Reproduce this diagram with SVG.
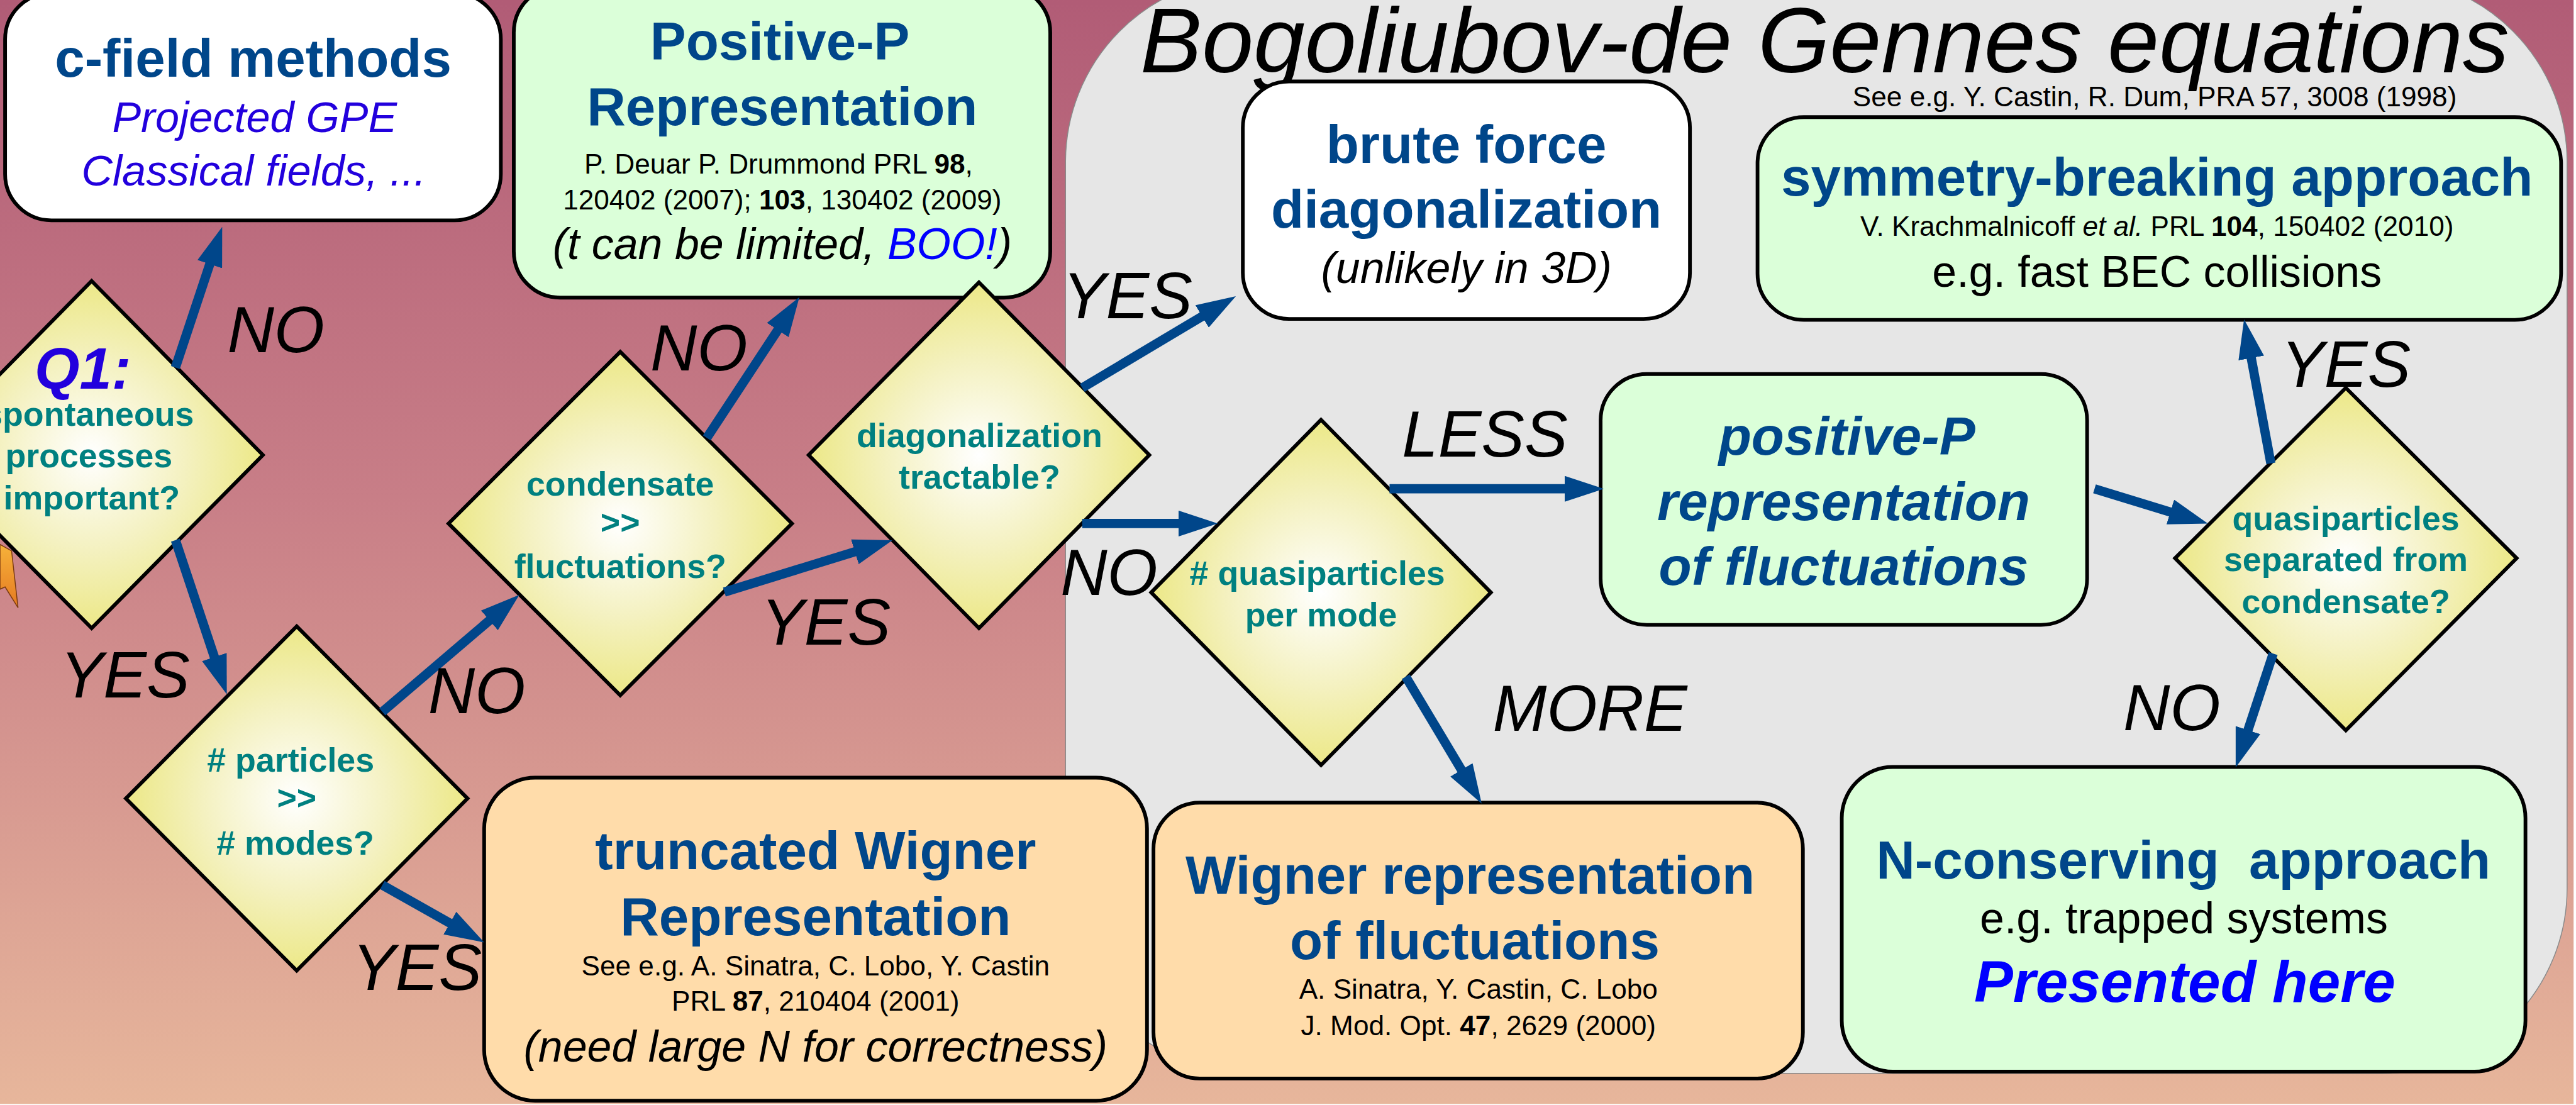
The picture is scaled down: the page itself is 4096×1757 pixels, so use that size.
<svg xmlns="http://www.w3.org/2000/svg" width="4096" height="1757" viewBox="0 0 4096 1757">
<defs>
<linearGradient id="bg" x1="0" y1="0" x2="0" y2="1">
<stop offset="0" stop-color="#b15c76"/>
<stop offset="0.45" stop-color="#c87e87"/>
<stop offset="1" stop-color="#e7b69b"/>
</linearGradient>
<radialGradient id="dg" cx="0.5" cy="0.5" r="0.5">
<stop offset="0" stop-color="#ffffff"/>
<stop offset="0.55" stop-color="#f4f1c0"/>
<stop offset="1" stop-color="#ece887"/>
</radialGradient>
<linearGradient id="og" x1="0" y1="0" x2="0" y2="1">
<stop offset="0" stop-color="#f6b23a"/>
<stop offset="1" stop-color="#e57a22"/>
</linearGradient>
<marker id="ah" markerUnits="userSpaceOnUse" viewBox="0 0 85 56" markerWidth="85" markerHeight="56" refX="5" refY="28" orient="auto">
<path d="M0,0 L85,28 L0,56 Z" fill="#00468a"/>
</marker>
<style>
text{font-family:"Liberation Sans",Arial,sans-serif}
.box{stroke:#000;stroke-width:8}
.g{fill:#dbffd9}
.w{fill:#ffffff}
.o{fill:#ffdcaa}
.dia{fill:url(#dg);stroke:#000;stroke-width:8;stroke-linejoin:miter}
.h{font-weight:bold;fill:#00468a;font-size:116px;text-anchor:middle}
.hi{font-weight:bold;font-style:italic;fill:#00468a;font-size:116px;text-anchor:middle}
.d{font-weight:bold;fill:#008080;font-size:73px;text-anchor:middle}
.r{font-size:60px;fill:#000;text-anchor:middle}
.n{font-size:95px;fill:#000;text-anchor:middle}
.ni{font-size:95px;font-style:italic;fill:#000;text-anchor:middle}
.lab{font-size:140px;font-style:italic;fill:#000;text-anchor:middle}
.c{stroke:#00468a;stroke-width:20;fill:none;marker-end:url(#ah)}
.v{fill:#2200dd}
</style>
</defs>
<g transform="scale(0.736)">
<rect x="0" y="0" width="5560" height="2385" fill="url(#bg)"/>
<g id="bdg-region">
<rect x="2302" y="-50" width="3244" height="2369" rx="400" ry="400" fill="#e6e6e6" stroke="#8a8a8a" stroke-width="2"/>
<text x="3942" y="156" font-size="200" font-style="italic" text-anchor="middle" fill="#000">Bogoliubov-de Gennes equations</text>
<text class="r" x="4655" y="230">See e.g. Y. Castin, R. Dum, PRA 57, 3008 (1998)</text>
</g>
<path d="M0,1176 L25,1190 L39,1313 L11,1268 L0,1273 Z" fill="url(#og)" stroke="#7a3a10" stroke-width="2"/>

<g id="cfield">
<rect class="box w" x="11" y="-15" width="1071" height="491" rx="100" ry="100"/>
<text class="h" x="547" y="166">c-field methods</text>
<text class="v" x="550" y="285" font-size="93" font-style="italic" text-anchor="middle">Projected GPE</text>
<text class="v" x="548" y="401" font-size="93" font-style="italic" text-anchor="middle">Classical fields, ...</text>
</g>

<g id="positiveP">
<rect class="box g" x="1110" y="-30" width="1159" height="673" rx="100" ry="100"/>
<text class="h" x="1685" y="129">Positive-P</text>
<text class="h" x="1690" y="270">Representation</text>
<text class="r" x="1682" y="375">P. Deuar P. Drummond PRL <tspan font-weight="bold">98</tspan>,</text>
<text class="r" x="1690" y="453">120402 (2007); <tspan font-weight="bold">103</tspan>, 130402 (2009)</text>
<text class="ni" x="1690" y="560">(t can be limited, <tspan fill="#0000ff">BOO!</tspan>)</text>
</g>

<g id="q1">
<polygon class="dia" points="198,607 568,983 198,1357 -172,983"/>
<text x="179" y="840" font-size="125" font-weight="bold" font-style="italic" fill="#2200dd" text-anchor="middle">Q1:</text>
<text class="d" x="192" y="920">spontaneous</text>
<text class="d" x="192" y="1009">processes</text>
<text class="d" x="198" y="1101">important?</text>
</g>

<g id="particles">
<polygon class="dia" points="641,1353 1010,1725 641,2097 272,1725"/>
<text class="d" x="628" y="1667"># particles</text>
<text class="d" x="641" y="1749">&gt;&gt;</text>
<text class="d" x="638" y="1846"># modes?</text>
</g>

<g id="condensate">
<polygon class="dia" points="1340,760 1711,1131 1340,1502 969,1131"/>
<text class="d" x="1340" y="1070">condensate</text>
<text class="d" x="1340" y="1153">&gt;&gt;</text>
<text class="d" x="1340" y="1249">fluctuations?</text>
</g>

<g id="diagonalization">
<polygon class="dia" points="2115,610 2483,983 2115,1357 1747,983"/>
<text class="d" x="2116" y="966">diagonalization</text>
<text class="d" x="2116" y="1056">tractable?</text>
</g>

<g id="truncatedWigner">
<rect class="box o" x="1046" y="1680" width="1432" height="698" rx="110" ry="110"/>
<text class="h" x="1762" y="1878">truncated Wigner</text>
<text class="h" x="1762" y="2020">Representation</text>
<text class="r" x="1762" y="2107">See e.g. A. Sinatra, C. Lobo, Y. Castin</text>
<text class="r" x="1762" y="2183">PRL <tspan font-weight="bold">87</tspan>, 210404 (2001)</text>
<text class="ni" x="1762" y="2293">(need large N for correctness)</text>
</g>

<g id="bruteForce">
<rect class="box w" x="2685" y="176" width="966" height="513" rx="100" ry="100"/>
<text class="h" x="3168" y="352">brute force</text>
<text class="h" x="3168" y="492">diagonalization</text>
<text class="ni" x="3168" y="612">(unlikely in 3D)</text>
</g>

<g id="quasiparticles">
<polygon class="dia" points="2854,907 3221,1280 2854,1653 2487,1280"/>
<text class="d" x="2846" y="1264"># quasiparticles</text>
<text class="d" x="2854" y="1353">per mode</text>
</g>

<g id="positivePfluct">
<rect class="box g" x="3458" y="808" width="1051" height="542" rx="100" ry="100"/>
<text class="hi" x="3990" y="983">positive-P</text>
<text class="hi" x="3983" y="1123">representation</text>
<text class="hi" x="3983" y="1264">of fluctuations</text>
</g>

<g id="wignerFluct">
<rect class="box o" x="2492" y="1734" width="1403" height="596" rx="100" ry="100"/>
<text class="h" x="3176" y="1931">Wigner representation</text>
<text class="h" x="3186" y="2072">of fluctuations</text>
<text class="r" x="3194" y="2158">A. Sinatra, Y. Castin, C. Lobo</text>
<text class="r" x="3194" y="2237">J. Mod. Opt. <tspan font-weight="bold">47</tspan>, 2629 (2000)</text>
</g>

<g id="symmetryBreaking">
<rect class="box g" x="3797" y="253" width="1736" height="438" rx="100" ry="100"/>
<text class="h" x="4660" y="423">symmetry-breaking approach</text>
<text class="r" x="4660" y="510">V. Krachmalnicoff <tspan font-style="italic">et al.</tspan> PRL <tspan font-weight="bold">104</tspan>, 150402 (2010)</text>
<text class="n" x="4660" y="620">e.g. fast BEC collisions</text>
</g>

<g id="separated">
<polygon class="dia" points="5068,838 5437,1206 5068,1578 4699,1206"/>
<text class="d" x="5068" y="1145">quasiparticles</text>
<text class="d" x="5068" y="1234">separated from</text>
<text class="d" x="5068" y="1325">condensate?</text>
</g>

<g id="nConserving">
<rect class="box g" x="3979" y="1657" width="1477" height="658" rx="110" ry="110"/>
<text class="h" x="4717" y="1898" xml:space="preserve">N-conserving  approach</text>
<text class="n" x="4718" y="2016">e.g. trapped systems</text>
<text x="4720" y="2165" font-size="126" font-weight="bold" font-style="italic" fill="#0000ff" text-anchor="middle">Presented here</text>
</g>

<g id="connectors">
<line class="c" x1="379" y1="794" x2="454.8" y2="565.9"/>
<line class="c" x1="379" y1="1167" x2="464.7" y2="1424.1"/>
<line class="c" x1="826" y1="1538" x2="1061.2" y2="1337"/>
<line class="c" x1="826" y1="1912" x2="976.3" y2="1996.7"/>
<line class="c" x1="1527" y1="946" x2="1683" y2="708.8"/>
<line class="c" x1="1565" y1="1279" x2="1851.6" y2="1190.6"/>
<line class="c" x1="2338" y1="838" x2="2601.3" y2="681"/>
<line class="c" x1="2338" y1="1131" x2="2551" y2="1131"/>
<line class="c" x1="3002" y1="1056" x2="3385" y2="1056"/>
<line class="c" x1="3037" y1="1462" x2="3159.9" y2="1667.4"/>
<line class="c" x1="4525" y1="1056" x2="4693.5" y2="1107.6"/>
<line class="c" x1="4906" y1="1001" x2="4862.7" y2="768.6"/>
<line class="c" x1="4911" y1="1412" x2="4855" y2="1582"/>
<g id="connector-labels">
<text class="lab" x="596" y="761">NO</text>
<text class="lab" x="270" y="1507">YES</text>
<text class="lab" x="1030" y="1541">NO</text>
<text class="lab" x="901" y="2138">YES</text>
<text class="lab" x="1510" y="800">NO</text>
<text class="lab" x="1784" y="1393">YES</text>
<text class="lab" x="2436" y="688">YES</text>
<text class="lab" x="2396" y="1285">NO</text>
<text class="lab" x="3208" y="987">LESS</text>
<text class="lab" x="3435" y="1579">MORE</text>
<text class="lab" x="5068" y="835">YES</text>
<text class="lab" x="4692" y="1578">NO</text>
</g>
</g>
</g>
</svg>
